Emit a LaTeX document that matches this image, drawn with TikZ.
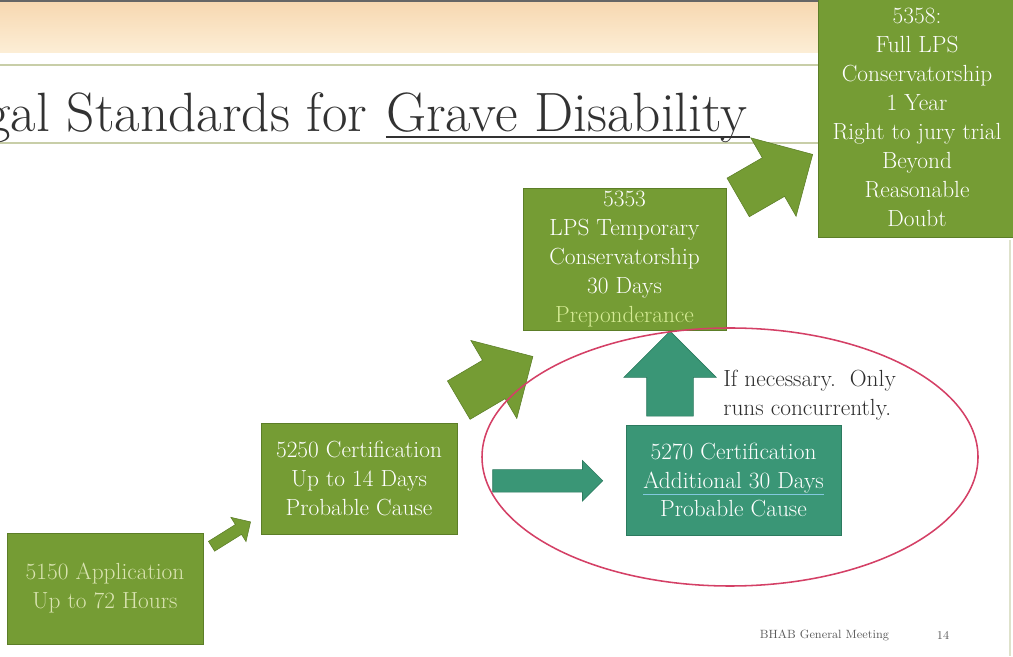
\documentclass[tikz,border=0pt]{standalone}
\usepackage{xcolor}
\usepackage{tikz}
\usetikzlibrary{calc}
\usetikzlibrary{shapes.arrows}

\definecolor{boxgreen}{RGB}{117,156,52}
\definecolor{boxline}{RGB}{92,126,40}
\definecolor{boxteal}{RGB}{58,150,118}
\definecolor{tealline}{RGB}{44,122,95}
\definecolor{paletext}{RGB}{218,228,178}
\definecolor{prepon}{RGB}{214,236,150}
\definecolor{ulblue}{RGB}{130,200,222}
\definecolor{ringred}{RGB}{212,64,102}
\definecolor{bantop}{RGB}{242,190,125}
\definecolor{banbot}{RGB}{252,238,214}
\definecolor{rulegreen}{RGB}{200,206,168}
\definecolor{titlegray}{RGB}{50,50,50}

\newcommand{\boxtxt}{\fontsize{16.6}{20.6}\selectfont}

\tikzset{
  gbox/.style={draw=boxline, line width=0.6pt, fill=boxgreen, text=white, align=center, font=\boxtxt, inner sep=0pt},
  tbox/.style={gbox, draw=tealline, fill=boxteal},
  garrow/.style={single arrow, draw=boxline, line width=0.4pt, fill=boxgreen, inner xsep=0pt},
  tarrow/.style={garrow, draw=tealline, fill=boxteal},
  title/.style={inner sep=0pt, text=titlegray, font=\fontsize{39.4}{44}\selectfont},
  slidenote/.style={inner sep=0pt, align=left, text=titlegray!90!black, font=\boxtxt},
  ring/.style={draw=ringred, line width=1.1pt}
}

\begin{document}
\begin{tikzpicture}
        \useasboundingbox (0,0) rectangle (25.325,16.4);
        %BANNER
        \shade[top color=bantop!60!white, middle color=bantop, bottom color=banbot] (0,15.075) rectangle (25.325,16.35);
        \draw[gray!80!black, line width=1.2pt] (0,16.37) -- (25.325,16.37);
        \draw[rulegreen, line width=1.4pt] (0,14.775) -- (25.325,14.775);
        \draw[rulegreen, line width=1.2pt] (0,12.825) -- (25.325,12.825);
        \draw[rulegreen!60, line width=1pt] (25.25,0) -- (25.25,10.4);
        %TITLE
        \node[title, anchor=base east] (tgrave) at (18.7,13.1) {Grave Disability};
        \node[title, anchor=base east] (tstd) at ($(tgrave.base west)+(-0.46,0)$) {gal Standards for};
        \draw[titlegray, line width=0.9pt] ($(tgrave.base west)+(0,-0.125)$) -- ($(tgrave.base east)+(0.05,-0.125)$);
        %BOXES
        \node[gbox, text=paletext, minimum width=4.9cm, minimum height=2.775cm] (b5150) at (2.625,1.6875) {5150 Application\\Up to 72 Hours};
        \node[gbox, minimum width=4.9cm, minimum height=2.775cm] (b5250) at (8.975,4.4375) {5250 Certification\\Up to 14 Days\\Probable Cause};
        \node[gbox, minimum width=5.075cm, minimum height=3.55cm] (b5353) at (15.6125,9.925) {5353\\LPS Temporary\\Conservatorship\\30 Days\\\textcolor{prepon}{Preponderance}};
        \node[gbox, minimum width=4.95cm, minimum height=5.975cm] (b5358) at (22.925,13.4625) {5358:\\Full LPS\\Conservatorship\\1 Year\\Right to jury trial\\Beyond\\Reasonable\\Doubt};
        \node[tbox, minimum width=5.375cm, minimum height=2.75cm] (b5270) at (18.3375,4.4) {5270 Certification\\\textcolor{ulblue}{\underline{\textcolor{white}{Additional 30 Days}}}\\Probable Cause};
        %ARROWS
        \node[garrow, minimum height=1.15cm, inner ysep=0.1375cm, single arrow head extend=0.2125cm, rotate=32] (a1) at ($(b5150.north east)!0.5!(b5250.south west)+(-0.085,-0.053)$) {};
        \node[garrow, minimum height=2.15cm, inner ysep=0.55cm, single arrow head extend=0.575cm, rotate=30.5] (a2) at ($(b5250.north east)!0.5!(b5353.south west)+(-0.095,-0.187)$) {};
        \node[garrow, minimum height=2.15cm, inner ysep=0.55cm, single arrow head extend=0.575cm, rotate=30] (a3) at ($(b5353.north east)!0.5!(b5358.south west)+(-0.156,0.775)$) {};
        \node[tarrow, minimum height=2.75cm, inner ysep=0.275cm, single arrow head extend=0.225cm] (a4) at ($(b5250.east)!0.5!(b5270.west)+(0.015,-0.04)$) {};
        \node[tarrow, minimum height=2.125cm, inner ysep=0.575cm, single arrow head extend=0.575cm, rotate=90] (a5) at ($(b5353.south)!0.5!(b5270.north)+(-0.225,-0.195)$) {};
        %NOTE
        \node[slidenote, anchor=west] (note) at (18.075,6.525) {If necessary.\ \ Only\\runs concurrently.};
        %ELLIPSE
        \draw[ring] (18.25,4.975) ellipse [x radius=6.2, y radius=3.225];
        %FOOTER
        \node[text=gray!70!black, font=\fontsize{8.5}{10}\selectfont, inner sep=0pt] (foot) at (20.6125,0.525) {BHAB General Meeting};
        \node[text=gray!70!black, font=\fontsize{8.5}{10}\selectfont, inner sep=0pt] (page) at (23.575,0.525) {14};
\end{tikzpicture}
\end{document}
